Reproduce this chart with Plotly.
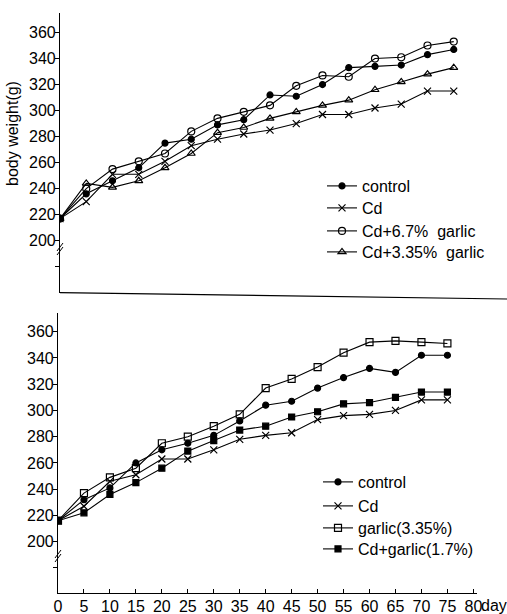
import plotly.graph_objects as go

W, H = 507, 614

days = [0, 5, 10, 15, 20, 25, 30, 35, 40, 45, 50, 55, 60, 65, 70, 75]

# top panel
top_control = [217, 236, 246, 256, 275, 278, 289, 293, 312, 311, 320, 333, 334, 335, 343, 347]
top_cd = [217, 230, 251, 251, 261, 273, 278, 282, 285, 290, 297, 297, 302, 305, 315, 315]
top_cd_garlic67 = [217, 240, 255, 261, 267, 284, 294, 299, 304, 319, 327, 326, 340, 341, 350, 353]
top_cd_garlic335 = [217, 244, 241, 246, 256, 267, 283, 287, 294, 299, 304, 308, 316, 322, 328, 333]

# bottom panel
bot_control = [216, 232, 241, 260, 270, 275, 281, 292, 304, 307, 317, 325, 332, 329, 342, 342]
bot_cd = [216, 227, 246, 251, 263, 263, 270, 278, 281, 283, 293, 296, 297, 300, 308, 308]
bot_garlic335 = [216, 237, 249, 256, 275, 280, 288, 297, 317, 324, 333, 344, 352, 353, 352, 351]
bot_cd_garlic17 = [216, 222, 236, 245, 256, 269, 277, 285, 288, 295, 299, 305, 306, 310, 314, 314]

y_tickvals = [180, 200, 220, 240, 260, 280, 300, 320, 340, 360]
y_ticktext = ["", "200", "220", "240", "260", "280", "300", "320", "340", "360"]
x_tickvals = [0, 5, 10, 15, 20, 25, 30, 35, 40, 45, 50, 55, 60, 65, 70, 75, 80]

def px(x):
    return x / W

def py(y):
    return (H - y) / H

FONT = "Liberation Sans, Arial, sans-serif"
fig = go.Figure()

def add(x, y, name, symbol, size, xa, ya, legend, lw=1.2):
    fig.add_trace(go.Scatter(
        x=x, y=y, name=name, mode="lines+markers", showlegend=True,
        line=dict(color="black", width=1.1),
        marker=dict(symbol=symbol, size=size, color="black",
                    line=dict(color="black", width=lw)),
        xaxis=xa, yaxis=ya, legend=legend))

add(days, top_control, "control", "circle", 6, "x", "y", "legend")
add(days, top_cd, "Cd", "x-thin", 7, "x", "y", "legend2")
add(days, top_cd_garlic67, "Cd+6.7%  garlic", "circle-open", 7, "x", "y", "legend3")
add(days, top_cd_garlic335, "Cd+3.35%  garlic", "triangle-up-open", 7, "x", "y", "legend4")

add(days, bot_control, "control", "circle", 6, "x2", "y2", "legend5")
add(days, bot_cd, "Cd", "x-thin", 7, "x2", "y2", "legend6")
add(days, bot_garlic335, "garlic(3.35%)", "square-open", 7, "x2", "y2", "legend7")
add(days, bot_cd_garlic17, "Cd+garlic(1.7%)", "square", 6, "x2", "y2", "legend8")

yax = dict(tickvals=y_tickvals, ticktext=y_ticktext, ticks="outside", ticklen=4,
           tickwidth=1, tickcolor="black", showline=True, linecolor="black",
           linewidth=1.2, showgrid=False, zeroline=False, automargin=False,
           tickfont=dict(size=16, color="black", family=FONT), ticklabelstandoff=-4)

shapes = []
# top x-axis baseline (slightly slanted as in scan)
shapes.append(dict(type="line", xref="paper", yref="paper",
                   x0=px(60), y0=py(292.7), x1=1.0, y1=py(299),
                   line=dict(color="black", width=1.2)))
# axis break marks
for (bx, by) in [(60, 249), (58, 556)]:
    for dy in (-2, 2):
        shapes.append(dict(type="line", xref="paper", yref="paper",
                           x0=px(bx - 3), y0=py(by + dy + 4), x1=px(bx + 3), y1=py(by + dy - 4),
                           line=dict(color="black", width=1)))

def leg(xp, yp):
    return dict(x=px(xp), y=py(yp), xanchor="left", yanchor="middle",
                bgcolor="rgba(0,0,0,0)", font=dict(size=16, family=FONT, color="black"),
                itemwidth=30, tracegroupgap=0)

fig.update_layout(
    width=W, height=H, margin=dict(l=0, r=0, t=0, b=0, autoexpand=False),
    paper_bgcolor="white", plot_bgcolor="white", showlegend=True,
    font=dict(family=FONT, size=16, color="black"),
    xaxis=dict(domain=[px(60), px(60 + 80 * 5.25)], range=[0, 80], showline=False,
               showticklabels=False, ticks="", showgrid=False, zeroline=False,
               automargin=False),
    yaxis=dict(domain=[py(292.7), py(13)], range=[160, 375], **yax),
    xaxis2=dict(domain=[px(58), px(477)], range=[0, 80.7], anchor="y2",
                tickvals=x_tickvals, ticks="inside", ticklen=4, tickwidth=1,
                tickcolor="black", showline=True, linecolor="black", linewidth=1.2,
                showgrid=False, zeroline=False, automargin=False,
                ticklabelstandoff=-2,
                tickfont=dict(size=16, color="black", family=FONT)),
    yaxis2=dict(domain=[py(593.3), py(313)], range=[160.7, 374.2], anchor="x2", **yax),
    legend=leg(322, 186),
    legend2=leg(322, 208),
    legend3=leg(322, 231),
    legend4=leg(322, 252),
    legend5=leg(318, 482),
    legend6=leg(318, 506),
    legend7=leg(318, 528),
    legend8=leg(318, 549),
    shapes=shapes,
    annotations=[
        dict(text="body weight(g)", textangle=-90, xref="paper", yref="paper",
             x=px(12), y=py(134), xanchor="center", yanchor="middle",
             showarrow=False, font=dict(size=16, family=FONT)),
        dict(text="day", xref="paper", yref="paper", x=px(479), y=py(605),
             xanchor="left", yanchor="middle", showarrow=False,
             font=dict(size=16, family=FONT)),
    ],
)

fig.write_html("out.html", config={"displayModeBar": False},
               post_script="document.body.style.margin='0';document.body.style.overflow='hidden';")
